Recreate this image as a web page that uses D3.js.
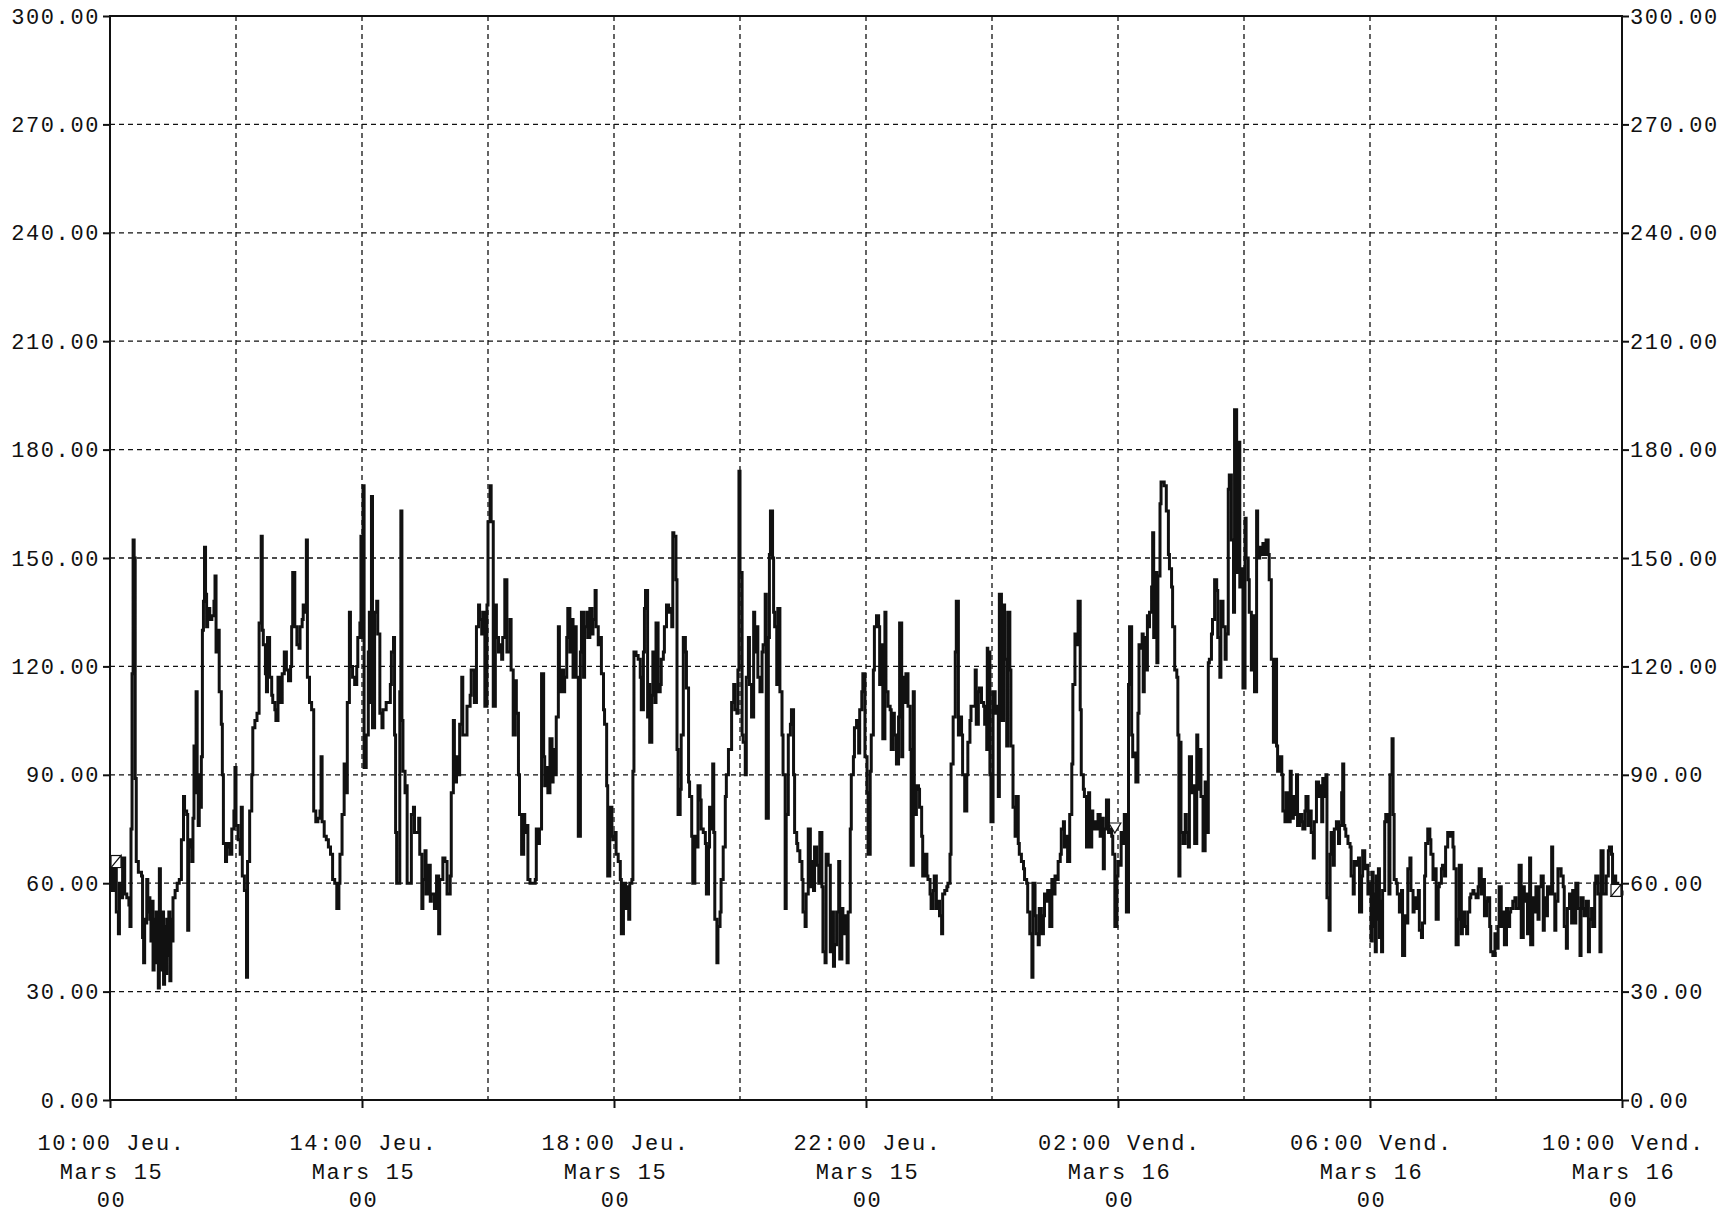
<!DOCTYPE html>
<html>
<head>
<meta charset="utf-8">
<title>Trace Jeu. Mars 15 - Vend. Mars 16</title>
<style>
    body { margin: 0; background: #fff; }
    text {
        font-family: "Liberation Mono", monospace;
        font-size: 22px;
        letter-spacing: 1.6px;
        fill: #111;
    }
    .grid line {
        stroke: #111;
        stroke-width: 1.3;
        stroke-dasharray: 5,4;
    }
    .axis path { display: none; }
    .axis line { stroke: #111; stroke-width: 2; }
</style>
</head>
<body>
<div id="chart"></div>
<script src="https://cdn.jsdelivr.net/npm/d3@7/dist/d3.min.js"></script>
<script>
// minutes since 10:00 Jeu. -> value
const samples = [
    [0,66],[2,58],[4,64],[6,52],[8,46],[9,60],[11,56],[12,67],[14,57],[16,56],[18,54],[19,48],[20,75],[21,118],[22,155],[23,150],[24,89],[25,66],[27,63],[30,62],
    [31,45],[32,38],[33,50],[34,49],[35,61],[36,52],[37,56],[38,50],[39,44],[40,55],[41,36],[42,50],[43,38],[44,52],[45,40],[46,31],[47,64],[48,45],[49,36],[50,52],
    [51,32],[52,48],[53,35],[54,50],[55,40],[56,52],[57,33],[58,50],[59,44],[60,56],[62,58],[64,60],[66,61],[68,72],[70,84],[71,80],[73,79],[74,47],[75,70],[76,72],
    [78,66],[79,78],[80,98],[81,85],[82,113],[83,90],[84,76],[85,90],[86,81],[87,95],[88,130],[89,138],[90,153],[91,140],[92,131],[93,136],[95,133],[97,134],[99,138],[100,145],
    [101,124],[102,130],[104,113],[106,104],[107,90],[108,71],[110,66],[111,70],[112,71],[114,68],[116,75],[118,80],[119,92],[120,76],[122,72],[124,68],[125,81],[126,62],[128,58],[130,34],
    [131,66],[133,80],[135,90],[136,103],[138,105],[140,107],[142,132],[144,156],[145,130],[146,126],[148,118],[149,113],[150,128],[152,117],[154,112],[155,110],[157,108],[158,105],[160,117],[162,110],
    [164,118],[166,124],[168,119],[170,116],[172,120],[173,131],[174,146],[176,131],[178,126],[180,125],[181,131],[183,133],[184,137],[186,135],[187,155],[188,117],[190,110],[192,108],[194,80],[196,77],
    [198,78],[200,80],[201,95],[202,77],[204,73],[206,72],[208,70],[210,68],[212,61],[214,60],[216,53],[218,60],[219,68],[221,79],[223,93],[225,85],[226,110],[228,135],[229,120],[231,117],
    [233,115],[235,120],[236,128],[238,132],[239,156],[240,128],[241,170],[242,92],[244,101],[246,124],[247,135],[248,110],[249,167],[250,103],[252,135],[254,138],[255,129],[257,107],[259,103],[260,108],
    [263,110],[267,115],[268,124],[270,128],[271,101],[272,74],[273,60],[275,60],[276,113],[277,163],[278,105],[279,91],[281,85],[282,87],[283,60],[286,60],[287,79],[289,81],[290,74],[294,78],
    [295,68],[297,53],[298,61],[300,69],[301,57],[303,65],[305,55],[306,57],[309,53],[311,62],[313,46],[314,61],[317,67],[319,66],[321,57],[324,62],[325,85],[327,105],[328,88],[330,95],
    [332,90],[333,104],[335,117],[336,101],[340,109],[343,112],[344,119],[347,110],[349,131],[351,137],[352,133],[354,129],[355,135],[357,109],[359,137],[360,160],[362,170],[363,160],[365,109],[367,137],
    [368,128],[370,124],[371,126],[373,122],[374,128],[376,144],[378,124],[381,133],[382,119],[384,101],[386,116],[387,107],[389,90],[390,79],[392,68],[394,79],[395,74],[397,76],[398,61],[400,60],
    [403,60],[405,61],[406,75],[408,71],[409,75],[411,118],[413,95],[414,87],[416,92],[417,85],[419,100],[421,88],[422,97],[424,90],[425,106],[427,131],[428,113],[430,119],[432,113],[433,117],
    [435,128],[436,136],[438,124],[440,133],[441,117],[443,131],[444,117],[446,73],[448,124],[449,135],[451,117],[452,131],[454,135],[455,128],[457,136],[459,129],[460,133],[462,141],[463,131],[465,126],
    [467,128],[468,118],[470,108],[471,104],[473,87],[474,62],[476,81],[478,73],[479,72],[481,74],[482,68],[484,66],[486,61],[487,46],[489,60],
    [491,53],[492,59],[494,50],[495,60],[497,61],[498,91],[499,124],[501,123],[503,122],[505,117],[506,108],[508,124],[509,136],[510,141],[512,106],[513,115],[514,99],[516,112],[517,124],[519,110],
    [520,132],[522,113],[524,115],[525,122],[527,124],[528,131],[530,137],[532,135],[533,136],[535,131],[536,157],[537,156],[539,144],[540,97],[541,79],[543,86],[544,101],[546,128],[548,124],[549,114],
    [551,88],[552,84],[554,73],[555,60],[557,73],[559,70],[560,87],[562,83],[563,75],[565,74],[567,71],[568,57],[570,70],[571,81],[573,75],[574,93],[575,74],[576,50],[578,38],[579,48],
    [581,52],[582,61],[584,70],[586,84],[587,90],[589,97],[590,97],[592,110],[594,115],[595,108],[597,107],[598,119],[599,174],[600,146],[602,101],[603,99],[605,90],[606,117],[608,128],[609,115],
    [611,106],[613,135],[614,124],[616,131],[617,117],[619,113],[621,124],[622,126],[624,140],[625,78],[627,128],[628,151],[629,163],[631,150],[632,135],[633,131],[635,115],[636,136],[638,113],[640,101],
    [641,90],[643,53],[644,79],[646,101],[648,104],[649,108],[651,90],[652,74],[654,71],[655,69],[657,66],[659,61],[660,52],[662,48],[663,57],[665,75],[667,59],[668,66],[670,58],[671,70],
    [673,65],[675,60],[676,74],[678,59],[679,41],[681,38],[682,68],[684,65],[686,41],[687,52],[689,37],[690,43],[692,52],[694,66],[695,39],[697,53],[698,46],[700,51],[702,38],[703,52],
    [705,75],[706,90],[708,95],[709,103],[711,105],[713,96],[714,108],[716,113],[717,118],[719,95],[721,85],[722,68],[724,91],[725,101],[727,119],[728,131],[730,134],[732,131],
    [733,115],[735,126],[736,100],[738,135],[739,113],[741,109],[743,108],[744,97],[746,107],[747,101],[749,93],[751,106],[752,132],[754,95],[755,117],[757,110],[758,118],[760,109],[762,97],[763,65],
    [765,113],[766,79],[768,87],[770,86],[771,81],[773,73],[774,62],[776,68],[778,62],[779,61],[781,57],[782,53],[784,58],[785,62],[787,53],[789,55],[790,51],[792,46],[793,57],[795,58],
    [797,59],[798,60],[800,68],[801,93],[803,106],[805,124],[806,138],[808,101],[809,106],[811,101],[812,90],[814,80],[816,90],[817,99],[819,105],[820,109],[822,109],[824,119],[825,104],[827,113],
    [828,114],[830,110],[832,109],[833,104],[835,97],[835.5,125],[836,124],[838,90],[839,77],[841,113],[843,107],[844,109],[846,84],[847,140],[849,105],[851,137],[852,122],[854,98],[855,135],[857,119],
    [858,98],[860,81],[862,73],[863,84],[865,71],[866,68],[868,66],[870,64],[871,61],[873,60],[874,52],[876,46],[878,34],[879,60],[881,51],[882,46],[884,43],[885,53],[887,46],[889,51],
    [890,57],[892,55],[893,58],[895,48],[897,61],[898,57],[900,62],[901,61],[903,66],[905,68],[906,75],[908,77],[909,70],[911,73],[912,66],[914,79],[916,93],[917,115],[919,129],[920,126],
    [922,138],[924,108],[925,90],[927,86],[928,84],[930,70],[932,85],[933,70],[935,80],[936,75],[938,77],[939,75],[941,79],[943,73],[944,78],[946,64],[947,75],[949,83],[951,74],[952,75],
    [954,73],[955,68],[957,48],[959,62],[960,66],[962,65],[963,74],[965,71],[966,79],[968,52],[970,115],[971,131],[973,101],
    [974,95],[976,96],[977,88],[979,107],[980,126],[981,125],[983,129],[984,113],[985,128],[987,119],[988,134],[989,131],[990,135],[992,142],[993,157],[994,128],[996,146],[997,121],[998,145],[1000,165],
    [1001,171],[1003,171],[1004,170],[1006,163],[1008,151],[1009,147],[1011,142],[1012,131],[1014,119],[1016,117],[1017,101],[1018,62],[1019,99],[1020,74],[1022,71],[1024,79],[1025,74],[1027,70],[1028,95],[1030,85],
    [1031,87],[1033,71],[1035,101],[1036,86],[1038,97],[1039,84],[1041,69],[1043,88],[1044,74],[1046,121],[1047,122],[1049,129],[1050,133],[1052,144],[1054,141],[1055,128],[1057,117],[1058,138],[1060,131],[1062,122],
    [1063,129],[1065,169],[1066,173],[1068,155],[1070,135],[1071,191],[1073,146],[1074,182],[1076,142],[1077,147],[1079,114],[1081,161],[1082,150],[1084,144],[1085,135],[1087,119],[1089,134],[1090,113],[1092,163],[1093,150],
    [1095,153],[1097,151],[1098,154],[1100,151],[1101,155],[1103,151],[1104,144],[1106,122],[1108,99],[1109,122],[1111,98],[1112,91],[1114,95],[1116,90],[1117,80],[1119,77],[1120,85],[1122,77],[1124,91],[1125,78],
    [1127,84],[1128,79],[1130,90],[1131,76],[1133,79],[1135,77],[1136,75],[1138,80],[1139,84],[1141,76],[1143,80],[1144,74],[1146,67],[1147,77],[1149,88],[1151,84],[1152,87],[1154,77],[1155,89],[1157,84],
    [1158,90],[1159,56],[1161,47],[1162,68],[1163,74],[1165,65],[1166,75],[1168,77],[1170,71],[1171,76],[1173,85],[1174,93],[1175,76],[1176,75],[1177,73],[1179,71],[1181,70],[1182,62],[1184,57],[1185,66],
    [1187,65],[1189,67],[1190,52],[1192,62],[1193,69],[1195,64],[1197,65],[1198,57],
    [1200,60],[1201,44],[1202,63],[1203,48],[1204,57],[1205,41],[1206,62],[1207,50],[1208,64],[1209,45],[1210,55],[1211,41],[1212,58],[1214,77],[1215,79],[1217,77],[1218,57],[1219,90],[1221,100],[1222,79],
    [1223,61],[1225,60],[1226,57],[1228,52],[1230,58],[1231,40],[1233,51],[1234,49],[1236,64],[1238,67],[1239,58],[1241,52],[1242,56],[1244,53],[1246,58],[1247,47],[1249,45],[1250,49],[1252,62],[1253,71],
    [1255,75],[1257,72],[1258,68],[1260,61],[1261,64],[1263,50],[1265,59],[1266,60],[1268,64],[1269,65],[1271,62],[1272,70],[1274,74],[1276,73],[1277,74],[1279,70],[1280,64],[1282,43],[1284,50],[1285,65],
    [1287,46],[1288,52],[1290,48],[1292,46],[1293,52],[1295,56],[1296,57],[1298,58],[1299,57],[1301,56],[1303,59],[1304,64],[1306,57],[1307,61],[1309,51],[1311,55],[1312,56],[1314,48],[1315,41],[1317,40],
    [1319,46],[1320,42],[1322,48],[1323,59],[1325,48],[1326,52],[1328,43],[1330,53],[1331,48],[1333,52],[1334,53],[1336,55],[1338,56],[1339,53],[1341,53],[1342,65],[1344,45],[1346,59],[1347,55],[1349,57],
    [1350,46],[1352,67],[1353,43],[1355,56],[1357,52],[1358,59],[1360,50],[1361,59],[1363,62],[1365,47],[1366,56],[1368,51],[1369,59],[1371,57],[1373,70],[1374,57],[1376,47],[1377,55],[1379,64],[1381,64],
    [1382,62],[1384,59],[1385,48],[1387,42],[1388,53],[1390,57],[1392,49],[1393,58],[1395,49],[1396,60],[1398,53],[1400,40],[1401,56],[1403,53],[1404,51],[1406,55],[1408,41],[1409,50],[1411,53],[1412,48],
    [1414,60],[1415,62],[1417,57],[1419,41],[1420,69],[1422,57],[1423,57],[1425,62],[1427,69],[1428,70],[1430,68],[1431,60],[1433,62],[1434,60],[1436,59],[1438,57],[1440,58]
];

// recorder markers on the trace
const markers = [[0, 66, "box"], [957, 75, "tri"], [1440, 58, "box"]];

const yTicks = d3.range(0, 301, 30);
const xGrid = d3.range(120, 1440, 120);
const xTicks = [0, 240, 480, 720, 960, 1200, 1440];
const xLabelTime = ["10:00 Jeu.", "14:00 Jeu.", "18:00 Jeu.", "22:00 Jeu.", "02:00 Vend.", "06:00 Vend.", "10:00 Vend."];
const xLabelDay = ["Mars 15", "Mars 15", "Mars 15", "Mars 15", "Mars 16", "Mars 16", "Mars 16"];
const xLabelSec = ["00", "00", "00", "00", "00", "00", "00"];

let width = 1735, height = 1217
let plotL = 110, plotR = 1622, plotT = 16, plotB = 1100

let svg = d3.select("#chart")
    .append("svg")
    .attr("width", width)
    .attr("height", height)

let x = d3.scaleLinear().domain([0, 1440]).range([plotL, plotR])
let y = d3.scaleLinear().domain([0, 300]).range([plotB, plotT])

// dashed grid
let grid = svg.append("g").attr("class", "grid")
grid.selectAll(".h")
    .data(yTicks.filter(d => d > 0 && d < 300))
    .enter().append("line")
    .attr("x1", plotL).attr("x2", plotR)
    .attr("y1", d => y(d)).attr("y2", d => y(d))
grid.selectAll(".v")
    .data(xGrid)
    .enter().append("line")
    .attr("x1", d => x(d)).attr("x2", d => x(d))
    .attr("y1", plotT).attr("y2", plotB)

// frame
svg.append("rect")
    .attr("x", plotL).attr("y", plotT)
    .attr("width", plotR - plotL).attr("height", plotB - plotT)
    .attr("fill", "none")
    .attr("stroke", "#111")
    .attr("stroke-width", 2)

// axes
svg.append("g")
    .attr("class", "axis")
    .attr("transform", "translate(" + plotL + ",0)")
    .call(d3.axisLeft(y).tickValues(yTicks).tickFormat(d3.format(".2f")).tickSize(7).tickPadding(3))

svg.append("g")
    .attr("class", "axis")
    .attr("transform", "translate(" + plotR + ",0)")
    .call(d3.axisRight(y).tickValues(yTicks).tickFormat(d3.format(".2f")).tickSize(7).tickPadding(1))

let xAxis = svg.append("g")
    .attr("class", "axis")
    .attr("transform", "translate(0," + plotB + ")")
    .call(d3.axisBottom(x).tickValues(xTicks).tickFormat("").tickSize(8))

xAxis.selectAll(".tick text").remove()
let labels = xAxis.selectAll(".tick").append("text")
    .attr("text-anchor", "middle")
    .attr("fill", "#111")
labels.append("tspan").attr("x", 1).attr("y", 50).text((d, i) => xLabelTime[i])
labels.append("tspan").attr("x", 1).attr("y", 79).text((d, i) => xLabelDay[i])
labels.append("tspan").attr("x", 1).attr("y", 107).text((d, i) => xLabelSec[i])

// the trace
let line = d3.line()
    .x(d => x(d[0]))
    .y(d => y(d[1]))
    .curve(d3.curveStepAfter)

svg.append("path")
    .datum(samples)
    .attr("d", line)
    .attr("fill", "none")
    .attr("stroke", "#111")
    .attr("stroke-width", 3)

// markers
let mk = svg.append("g")
    .attr("fill", "#fff")
    .attr("stroke", "#111")
    .attr("stroke-width", 1.2)
markers.forEach(function (m) {
    let cx = x(m[0]), cy = y(m[1])
    if (m[2] === "box") {
        let bx = Math.min(Math.max(cx - 5, plotL + 1), plotR - 11)
        mk.append("rect").attr("x", bx).attr("y", cy - 6).attr("width", 10).attr("height", 12)
        mk.append("path").attr("d", "M" + bx + "," + (cy + 6) + "L" + (bx + 10) + "," + (cy - 6) + "L" + (bx + 10) + "," + (cy + 6) + "Z")
    } else {
        mk.append("path").attr("d", "M" + (cx - 6) + "," + (cy - 6) + "L" + (cx + 6) + "," + (cy - 6) + "L" + cx + "," + (cy + 4) + "Z")
    }
})
</script>
</body>
</html>
